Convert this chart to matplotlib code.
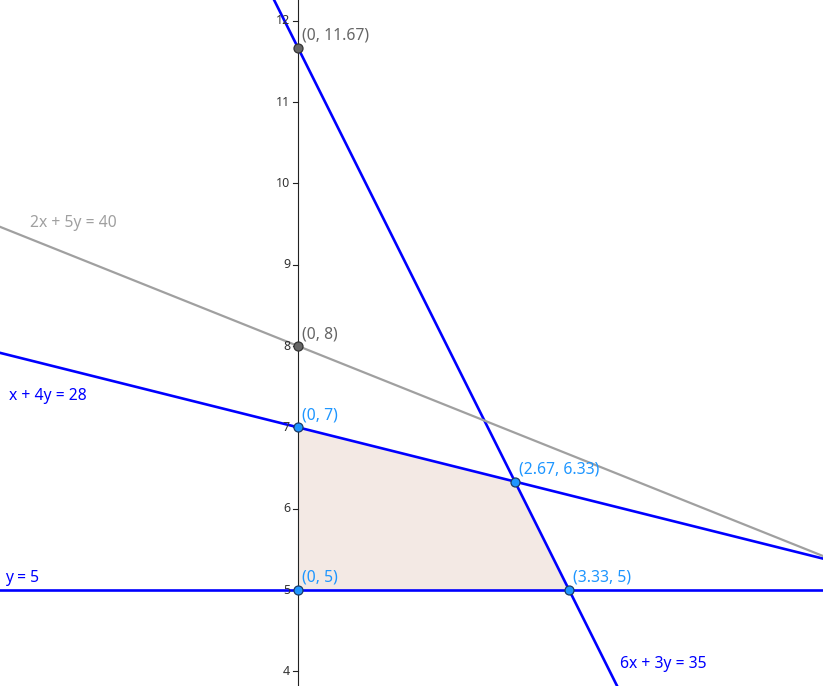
import matplotlib
matplotlib.use("Agg")
import matplotlib.pyplot as plt
import numpy as np

plt.rcParams['font.family'] = ['Noto Sans', 'DejaVu Sans']

# Constraint lines a*x + b*y = c
line_labels = ["6x + 3y = 35", "x + 4y = 28", "y = 5", "2x + 5y = 40"]
line_a = [6, 1, 0, 2]
line_b = [3, 4, 1, 5]
line_c = [35, 28, 5, 40]
line_colors = ["#0000ff", "#0000ff", "#0000ff", "#a0a0a0"]

# Feasible region vertices
region_x = [0, 0, 2.67, 3.33]
region_y = [5, 7, 6.33, 5]
region_labels = ["(0, 5)", "(0, 7)", "(2.67, 6.33)", "(3.33, 5)"]

# Other points on the y-axis
extra_x = [0, 0]
extra_y = [11.67, 8]
extra_labels = ["(0, 11.67)", "(0, 8)"]

yticks = [4, 5, 6, 7, 8, 9, 10, 11, 12]

W, H = 823, 686
fig = plt.figure(figsize=(W / 100, H / 100), dpi=100)
ax = fig.add_axes([0, 0, 1, 1])
scale = 81.33
x0px, y5px = 298, 590
xmin = -x0px / scale
xmax = (W - x0px) / scale
ymax = 5 + y5px / scale
ymin = 5 - (H - y5px) / scale
ax.set_xlim(xmin, xmax)
ax.set_ylim(ymin, ymax)

def px2data(px, py):
    return (px - x0px) / scale, 5 + (y5px - py) / scale

# filled region (exact vertices)
fx = [0, 0, 8 / 3, 10 / 3]
fy = [5, 7, 19 / 3, 5]
ax.fill(fx, fy, color="#f3e9e4", zorder=1, lw=0)

# lines
xs = np.array([xmin - 1, xmax + 1])
for a, b, c, col in zip(line_a, line_b, line_c, line_colors):
    ys = (c - a * xs) / b
    ax.plot(xs, ys, color=col, lw=1.9 if col == "#0000ff" else 1.6, zorder=3,
            solid_capstyle='butt')

# y axis
ax.axvline(0, color="#222222", lw=0.8, zorder=2)
for s in ax.spines.values():
    s.set_visible(False)
ax.set_xticks([])
ax.set_yticks([])
for t in yticks:
    ax.plot([-5 / scale, 0], [t, t], color="#222222", lw=0.8, zorder=2)
    ax.annotate(str(t), xy=(0, t), xytext=(-8, 0), textcoords='offset pixels',
                ha='right', va='center', fontsize=9, color="#333333")

# points
ax.plot(region_x, region_y, 'o', ms=6.5, mfc="#1e96ff", mec="#1a3a66", mew=0.9, zorder=5)
ax.plot(extra_x, extra_y, 'o', ms=6.5, mfc="#666666", mec="#333333", mew=0.9, zorder=5)
for x, y, lab in zip(region_x, region_y, region_labels):
    ax.annotate(lab, xy=(x, y), xytext=(4, 12), textcoords='offset pixels',
                ha='left', va='center', fontsize=11.3, color="#1e96ff", zorder=6)
for x, y, lab in zip(extra_x, extra_y, extra_labels):
    ax.annotate(lab, xy=(x, y), xytext=(4, 12), textcoords='offset pixels',
                ha='left', va='center', fontsize=11.3, color="#666666", zorder=6)

# line labels
label_px = [(620, 664.5), (9, 395.5), (5, 578.5), (30, 222.5)]
label_cols = ["#0000ff", "#0000ff", "#0000ff", "#a0a0a0"]
for lab, (px, py), col in zip(line_labels, label_px, label_cols):
    dx, dy = px2data(px, py)
    ax.text(dx, dy, lab, ha='left', va='center', fontsize=11.3, color=col, zorder=6)

fig.savefig("out.png", dpi=100)
